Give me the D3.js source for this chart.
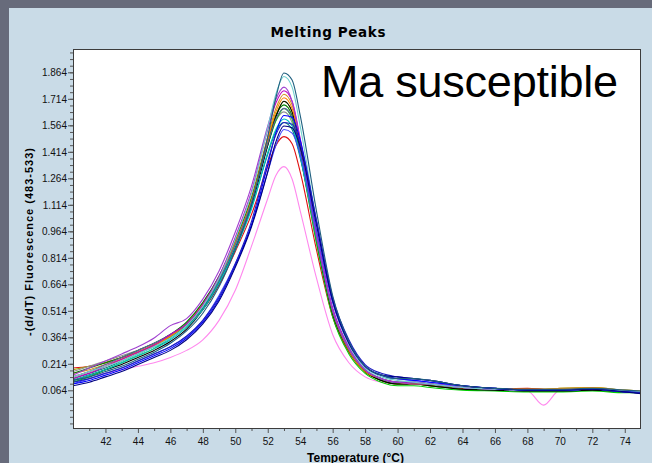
<!DOCTYPE html>
<html>
  <head>
	<meta charset="utf-8">
    <title>Melting Peaks</title>
    <script src="https://cdnjs.cloudflare.com/ajax/libs/d3/7.8.5/d3.min.js"></script>
  	<style>
		body{
			margin:0;
			padding:0;
			background:#676b7b;
		}
		svg{
			display:block;
		}
		.tick text{
			font-family:"Liberation Sans", Arial, sans-serif;
			font-size:10px;
			fill:#111;
		}
		.tick line{
			stroke:#555;
		}
		.run{
			fill:none;
			stroke-width:1.1px;
		}
	</style>
  </head>
  <body>
    <div id="diagram"></div>
    <script>
		// temperature points (deg C)
		var temps = [40, 41, 42, 43, 44, 45, 46, 47, 48, 49, 50, 51, 52, 52.5, 53, 53.5, 54, 55, 56, 57, 58, 59, 60, 61, 62, 64, 66, 68, 69, 70, 72, 74, 75];

		// -(d/dT) fluorescence for each sample, one value per temperature
		var run01 = [.12,.14,.17,.20,.24,.28,.33,.40,.50,.65,.86,1.12,1.50,1.72,1.86,1.82,1.62,1.08,.60,.34,.20,.15,.13,.13,.12,.09,.075,.07,.07,.07,.075,.065,.06];
		var run02 = [.14,.17,.20,.23,.27,.31,.36,.43,.54,.70,.92,1.18,1.55,1.74,1.84,1.78,1.56,1.02,.56,.32,.19,.14,.12,.11,.10,.08,.07,.065,.065,.065,.07,.06,.055];
		var run03 = [.15,.19,.23,.27,.31,.36,.43,.47,.58,.74,.96,1.22,1.56,1.71,1.78,1.70,1.48,.95,.52,.30,.18,.13,.11,.10,.10,.08,.07,.065,.065,.065,.07,.06,.055];
		var run04 = [.16,.18,.21,.24,.28,.32,.37,.44,.55,.70,.91,1.16,1.50,1.66,1.74,1.68,1.47,.95,.52,.30,.18,.13,.11,.11,.10,.08,.07,.07,.07,.075,.08,.065,.06];
		var run05 = [.12,.15,.18,.21,.25,.29,.34,.41,.52,.67,.87,1.11,1.45,1.61,1.70,1.64,1.44,.93,.50,.29,.17,.12,.10,.10,.09,.07,.065,.06,.06,.06,.065,.055,.05];
		var run06 = [.11,.14,.18,.22,.26,.30,.36,.43,.54,.69,.89,1.13,1.45,1.59,1.66,1.60,1.40,.90,.48,.27,.16,.11,.09,.09,.08,.065,.06,.055,.055,.055,.06,.05,.05];
		var run07 = [.19,.20,.22,.25,.28,.32,.37,.43,.52,.66,.85,1.06,1.33,1.45,1.50,1.46,1.30,.86,.48,.28,.17,.12,.10,.10,.09,.075,.07,.075,.07,.065,.075,.06,.055];
		var run08 = [.17,.20,.23,.26,.29,.33,.38,.45,.56,.71,.91,1.15,1.46,1.59,1.64,1.58,1.39,.90,.49,.29,.17,.13,.11,.10,.10,.08,.07,.065,.065,.065,.07,.06,.055];
		var run09 = [.14,.17,.20,.24,.28,.32,.37,.44,.55,.70,.90,1.14,1.48,1.64,1.72,1.66,1.46,.94,.51,.29,.17,.13,.11,.10,.10,.08,.07,.07,.07,.07,.075,.06,.055];
		var run10 = [.16,.19,.22,.25,.29,.33,.38,.45,.56,.71,.91,1.15,1.48,1.62,1.68,1.62,1.42,.92,.50,.29,.17,.12,.10,.10,.09,.07,.065,.06,.06,.06,.065,.055,.05];
		var run11 = [.13,.16,.20,.24,.28,.32,.38,.44,.55,.71,.93,1.19,1.54,1.69,1.76,1.70,1.49,.96,.53,.31,.18,.13,.11,.11,.10,.08,.07,.065,.065,.065,.07,.06,.055];
		var run12 = [.18,.20,.22,.25,.28,.32,.37,.44,.55,.70,.90,1.14,1.47,1.62,1.70,1.64,1.44,.93,.51,.29,.17,.12,.10,.10,.09,.08,.07,.07,.07,.075,.08,.065,.06];
		var run13 = [.13,.16,.19,.23,.27,.31,.36,.43,.53,.68,.87,1.10,1.40,1.53,1.58,1.54,1.38,.93,.52,.30,.18,.13,.11,.11,.10,.08,.07,.065,.065,.065,.07,.06,.055];
		var run14 = [.12,.15,.18,.22,.26,.30,.35,.42,.52,.67,.86,1.09,1.41,1.54,1.60,1.56,1.39,.93,.52,.30,.18,.13,.11,.11,.10,.08,.07,.065,.065,.065,.07,.06,.055];
		var run15 = [.14,.17,.21,.25,.29,.33,.38,.44,.54,.69,.89,1.13,1.46,1.60,1.66,1.61,1.42,.93,.51,.30,.18,.13,.11,.11,.10,.08,.07,.065,.065,.065,.07,.06,.055];
		var run16 = [.10,.12,.15,.18,.22,.26,.30,.36,.45,.58,.77,1.00,1.34,1.52,1.62,1.61,1.48,1.02,.58,.34,.20,.15,.13,.12,.11,.09,.075,.065,.065,.065,.07,.055,.05];
		var run17 = [.10,.13,.16,.19,.23,.27,.31,.37,.46,.60,.78,1.00,1.30,1.45,1.54,1.52,1.40,.97,.56,.33,.20,.15,.13,.12,.11,.09,.075,.065,.065,.065,.07,.055,.05];
		var run18 = [.09,.11,.14,.17,.21,.25,.29,.35,.44,.57,.76,.99,1.30,1.47,1.56,1.55,1.44,1.00,.57,.33,.20,.15,.14,.13,.12,.09,.075,.065,.065,.065,.07,.055,.045];
		var run19 = [.11,.13,.16,.19,.23,.27,.31,.37,.46,.59,.78,1.02,1.36,1.51,1.58,1.57,1.46,1.03,.59,.35,.21,.16,.14,.13,.12,.09,.075,.065,.065,.065,.07,.055,.05];
		var run20 = [.15,.15,.16,.18,.20,.22,.25,.29,.35,.46,.63,.88,1.15,1.28,1.33,1.26,1.08,.70,.38,.22,.14,.11,.10,.10,.09,.075,.065,.06,-.02,.065,.07,.06,.055];

		var runs = [run20, run07, run12, run04, run08, run10, run06, run05, run09, run13, run14, run15, run11, run03, run02, run17, run16, run19, run18, run01];
		var runColors = ["#ff88ee", "#e01010", "#a0a000", "#d09020", "#909090", "#008000", "#00d000", "#000000", "#ff8000", "#008080", "#00c0c0", "#6060a0", "#c000c0", "#a040d0", "#70d0d0", "#4040ff", "#0000ff", "#2020c0", "#000080", "#1f5f7f"];

		// axis tick labels
		var xTicks = [42, 44, 46, 48, 50, 52, 54, 56, 58, 60, 62, 64, 66, 68, 70, 72, 74];
		var yTicks = [0.064, 0.214, 0.364, 0.514, 0.664, 0.814, 0.964, 1.114, 1.264, 1.414, 1.564, 1.714, 1.864];

		var W = 652, H = 463;
		var plot = {left: 73, top: 49, right: 641, bottom: 429};

		var svg = d3.select("#diagram").append("svg")
					.attr("width", W)
					.attr("height", H);

		// dark outer frame + light blue panel
		svg.append("rect").attr("width", W).attr("height", H).attr("fill", "#676b7b");
		svg.append("rect").attr("x", 9).attr("y", 8).attr("width", W - 9).attr("height", H - 8).attr("fill", "#c9dbe7");

		// plot area
		svg.append("rect")
			.attr("x", plot.left).attr("y", plot.top)
			.attr("width", plot.right - plot.left).attr("height", plot.bottom - plot.top)
			.attr("fill", "#fff");

		var x = d3.scaleLinear().domain([40, 75]).range([plot.left, plot.right]);
		var y = d3.scaleLinear().domain([-0.155, 1.996]).range([plot.bottom, plot.top]);

		svg.append("clipPath").attr("id", "clip")
			.append("rect")
			.attr("x", plot.left).attr("y", plot.top)
			.attr("width", plot.right - plot.left).attr("height", plot.bottom - plot.top);

		var line = d3.line()
					.x(function(d, i){ return x(temps[i]); })
					.y(function(d){ return y(d); })
					.curve(d3.curveMonotoneX);

		svg.append("g")
			.attr("clip-path", "url(#clip)")
			.selectAll("path")
			.data(runs)
			.enter().append("path")
			.attr("class", "run")
			.attr("stroke", function(d, i){ return runColors[i]; })
			.attr("d", line);

		// minor ticks (drawn first, majors on top)
		var yStep = 0.15 / 4;
		var yMinor = [];
		for (var v = yTicks[0] - yStep; v > y.domain()[0]; v -= yStep) yMinor.push(v);
		for (var v = yTicks[0] + yStep; v < y.domain()[1]; v += yStep) yMinor.push(v);
		svg.append("g")
			.attr("transform", "translate(" + plot.left + ",0)")
			.call(d3.axisLeft(y).tickValues(yMinor).tickSize(3).tickFormat(""))
			.call(function(g){ g.select(".domain").remove(); });

		var xMinor = d3.range(41, 75, 2);
		svg.append("g")
			.attr("transform", "translate(0," + plot.bottom + ")")
			.call(d3.axisBottom(x).tickValues(xMinor).tickSize(2).tickFormat(""))
			.call(function(g){ g.select(".domain").remove(); });

		// major axes
		svg.append("g")
			.attr("transform", "translate(" + plot.left + ",0)")
			.call(d3.axisLeft(y).tickValues(yTicks).tickSize(5).tickPadding(1).tickFormat(d3.format(".3f")))
			.call(function(g){ g.select(".domain").remove(); });

		svg.append("g")
			.attr("transform", "translate(0," + plot.bottom + ")")
			.call(d3.axisBottom(x).tickValues(xTicks).tickSize(4).tickPadding(5))
			.call(function(g){ g.select(".domain").remove(); });

		// plot frame
		svg.append("rect")
			.attr("x", plot.left + 0.5).attr("y", plot.top + 0.5)
			.attr("width", plot.right - plot.left - 1).attr("height", plot.bottom - plot.top - 1)
			.attr("fill", "none")
			.attr("stroke", "#3c3c3c");

		// titles
		svg.append("text")
			.attr("x", 328).attr("y", 36.5)
			.attr("text-anchor", "middle")
			.attr("textLength", 115)
			.style("font-family", "'DejaVu Sans', Verdana, sans-serif")
			.style("font-weight", "bold")
			.style("font-size", "13.5px")
			.text("Melting Peaks");

		svg.append("text")
			.attr("transform", "translate(33,242) rotate(-90)")
			.attr("text-anchor", "middle")
			.attr("textLength", 188)
			.style("font-family", "'Liberation Sans', Arial, sans-serif")
			.style("font-weight", "bold")
			.style("font-size", "11px")
			.text("-(d/dT) Fluorescence (483-533)");

		svg.append("text")
			.attr("x", 355.5).attr("y", 461.5)
			.attr("text-anchor", "middle")
			.attr("textLength", 97)
			.style("font-family", "'Liberation Sans', Arial, sans-serif")
			.style("font-weight", "bold")
			.style("font-size", "12px")
			.text("Temperature (°C)");

		svg.append("text")
			.attr("x", 321).attr("y", 97)
			.attr("textLength", 297)
			.style("font-family", "'Liberation Sans', Arial, sans-serif")
			.style("font-size", "45px")
			.style("fill", "#000")
			.text("Ma susceptible");
	</script>
  </body>
</html>
